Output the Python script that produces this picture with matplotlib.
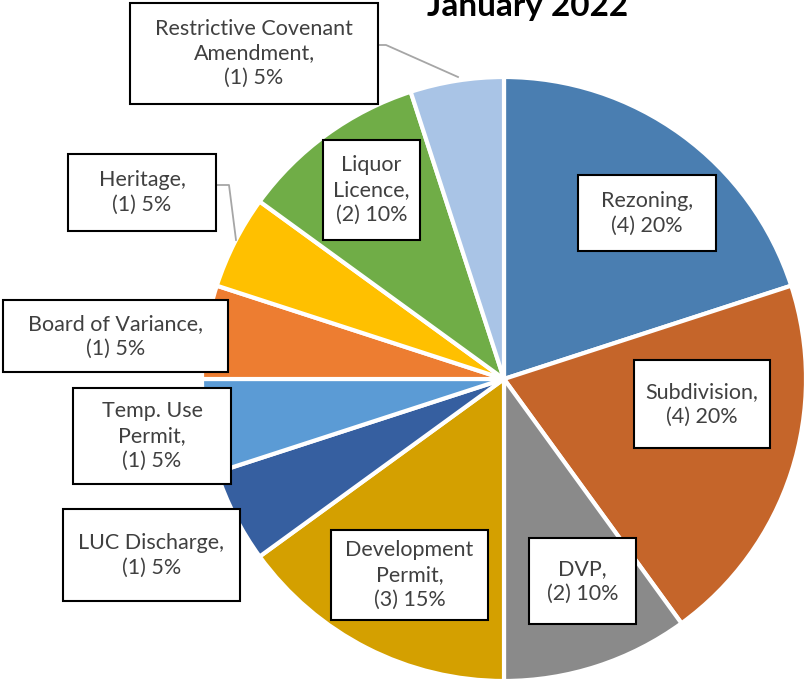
import matplotlib
matplotlib.use("Agg")
import matplotlib.pyplot as plt
from matplotlib.patches import Rectangle

# data
labels = ["Rezoning", "Subdivision", "DVP", "Development\nPermit", "LUC Discharge",
          "Temp. Use\nPermit", "Board of Variance", "Heritage", "Liquor\nLicence",
          "Restrictive Covenant\nAmendment"]
counts = [4, 4, 2, 3, 1, 1, 1, 1, 2, 1]
colors = ["#4A7EB1", "#C5652A", "#8A8A8A", "#D4A000", "#365FA0",
          "#5B9BD5", "#ED7D31", "#FFC000", "#70AD47", "#A9C4E6"]
title = "January 2022"

# label boxes in pixel coords (x0, y0, x1, y1), top-left origin
W, H = 808, 681
boxes = [(578, 175, 716, 251), (634, 360, 770, 448), (529, 538, 636, 624),
         (331, 530, 488, 620), (63, 509, 240, 601), (73, 388, 231, 484),
         (3, 300, 228, 372), (68, 154, 216, 231), (323, 140, 420, 240),
         (130, 3, 378, 104)]
leaders = {7: [(216, 185), (229, 185), (236, 240)],
           9: [(378, 45), (386, 45), (458, 77)]}

plt.rcParams['font.family'] = ['Lato', 'DejaVu Sans']

fig = plt.figure(figsize=(W / 100, H / 100), dpi=100)
ax = fig.add_axes([0, 0, 1, 1])
ax.set_xlim(0, W)
ax.set_ylim(0, H)
ax.axis("off")

ax.pie(counts, colors=colors, startangle=90, counterclock=False,
       center=(504, H - 379), radius=302,
       wedgeprops=dict(edgecolor="white", linewidth=3))
ax.set_xlim(0, W)
ax.set_ylim(0, H)
ax.set_aspect("equal")

total = sum(counts)
for i, (lab, c) in enumerate(zip(labels, counts)):
    x0, y0, x1, y1 = boxes[i]
    if i in leaders:
        pts = leaders[i]
        ax.plot([p[0] for p in pts], [H - p[1] for p in pts], color="#A6A6A6", lw=1.3)
    ax.add_patch(Rectangle((x0, H - y1), x1 - x0, y1 - y0, facecolor="white",
                           edgecolor="black", lw=1.5, zorder=5))
    pct = round(c / total * 100)
    ax.text((x0 + x1) / 2, H - (y0 + y1) / 2, f"{lab},\n({c}) {pct}%",
            ha="center", va="center", fontsize=15.5, color="#404040",
            linespacing=1.3, zorder=6)

ax.text(528, H - 16, title, ha="center", va="baseline", fontsize=24,
        fontweight="bold", color="black")

fig.savefig("out.png", dpi=100)
